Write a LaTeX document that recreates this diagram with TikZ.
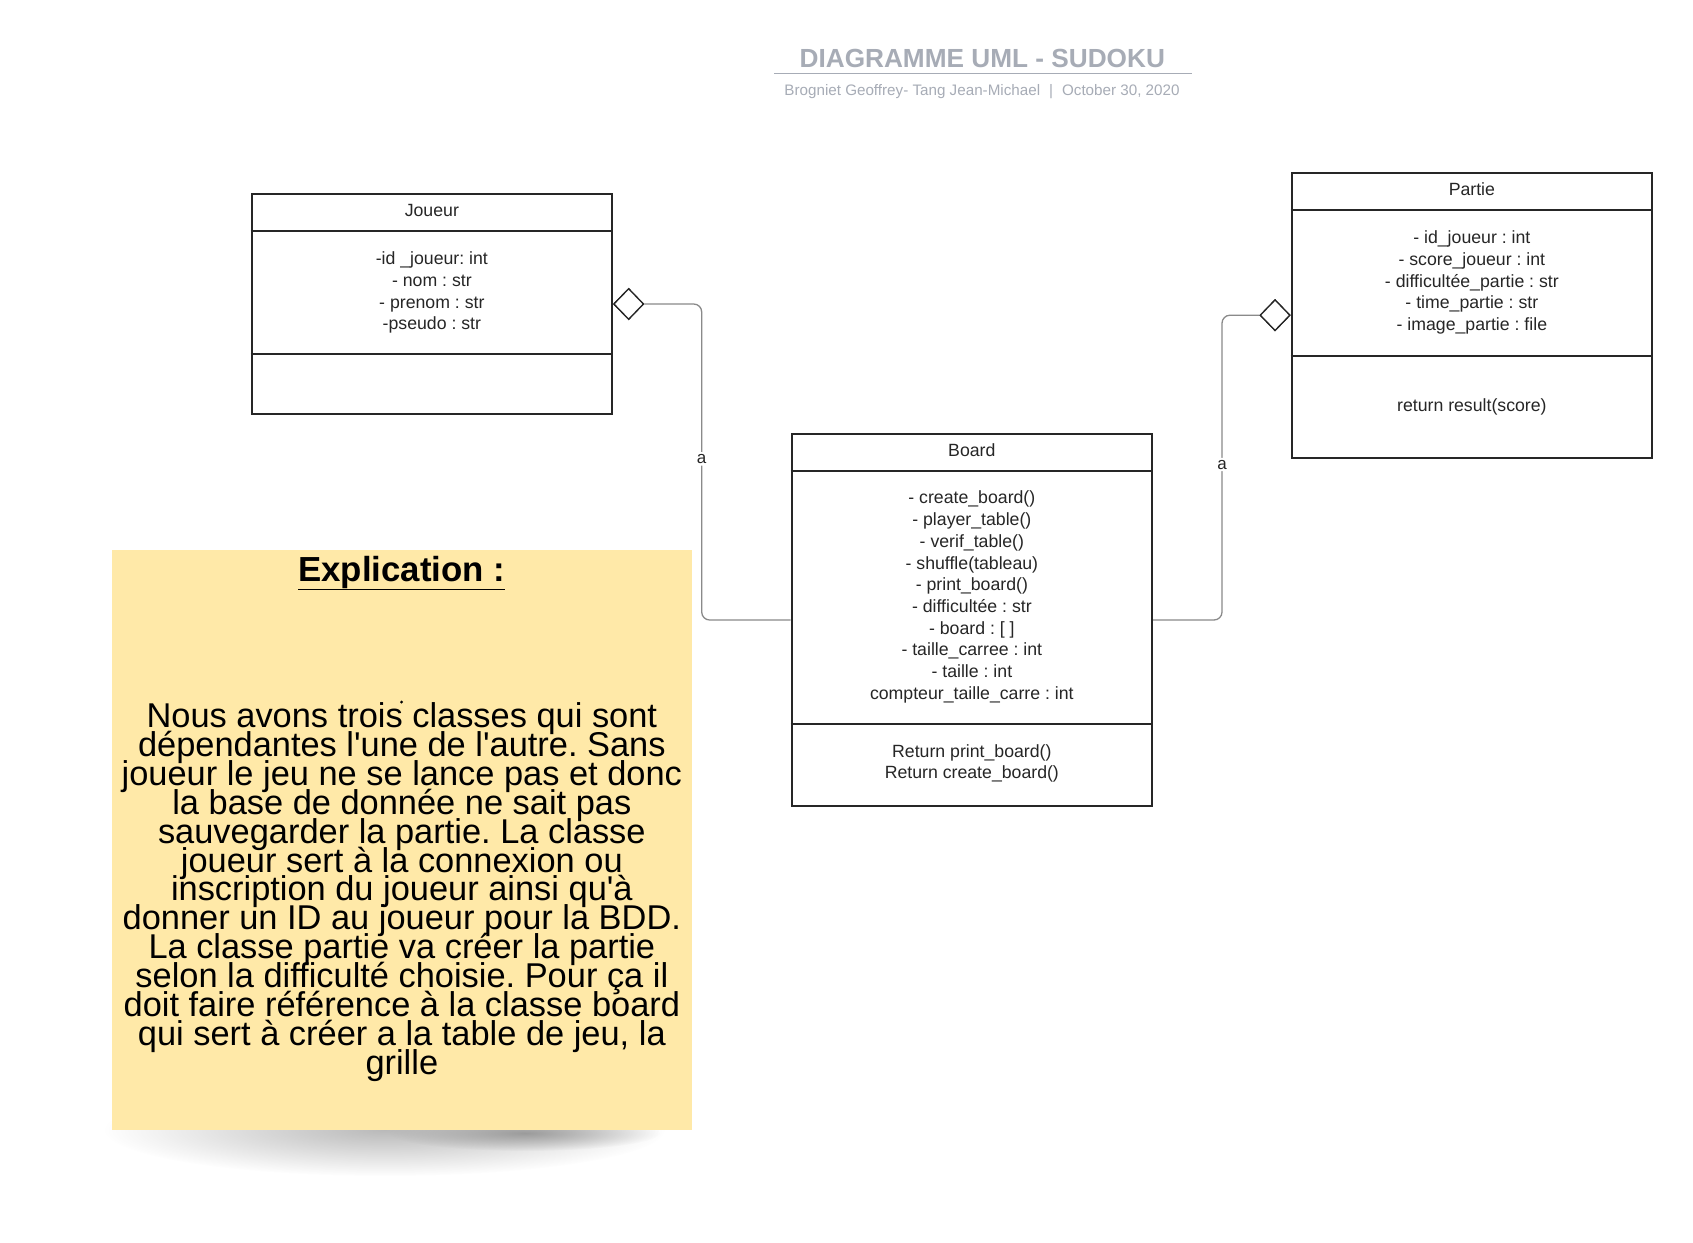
\documentclass[tikz,border=0pt]{standalone}
\usepackage{fontspec}
\setmainfont{Liberation Sans}
\usetikzlibrary{shapes.geometric,fadings}
\definecolor{ink}{HTML}{262626}
\definecolor{titlegray}{HTML}{A7ACB6}
\definecolor{conncol}{HTML}{8A8A8A}
\definecolor{notefill}{HTML}{FFE9A8}
\tikzfading[name=softfade, inner color=transparent!10, outer color=transparent!100]
\newcommand\mynotefont{\fontsize{34.4}{28.9}\selectfont\frenchspacing\setlength{\lineskiplimit}{-200pt}\setlength{\lineskip}{0pt}}
\begin{document}
\frenchspacing
\begin{tikzpicture}[x=1pt,y=-1pt,
  classbox/.style={draw=ink, line width=2pt, minimum width=360.3pt, inner sep=0pt},
  divider/.style={draw=ink, line width=2pt},
  txt/.style={text=ink, font=\fontsize{17.7}{21.7}\selectfont\frenchspacing, align=center, inner sep=0pt},
  conn/.style={draw=conncol, line width=1.3pt, rounded corners=8pt},
  dia/.style={diamond, draw=ink, line width=1.3pt, fill=white, minimum width=30pt, minimum height=31pt, inner sep=0pt},
  lab/.style={fill=white, text=ink, font=\fontsize{17}{18}\selectfont, inner sep=2pt},
  notebox/.style={fill=notefill, minimum width=580.3pt, minimum height=579.5pt, inner sep=0pt},
  notetxt/.style={text=black, align=center, inner sep=0pt, font=\mynotefont},
  titletxt/.style={text=titlegray, font=\bfseries\fontsize{26.2}{28}\selectfont, inner sep=0pt},
  subtxt/.style={text=titlegray, font=\fontsize{15.2}{18}\selectfont, inner sep=0pt},
]
\useasboundingbox[fill=white] (0,0) rectangle (1693,1242);

% ---------- title ----------
\node[titletxt, anchor=base] (title) at (982.3,67) {DIAGRAMME UML - SUDOKU};
\coordinate (tl) at (774,73.3);
\coordinate (tr) at (1191.7,73.3);
\draw[titlegray, line width=1.5pt] (tl) -- (tr);
\node[subtxt, anchor=base] (subtitle) at (982,95) {Brogniet Geoffrey- Tang Jean-Michael\hspace{9pt}|\hspace{9pt}October 30, 2020};

% ---------- Joueur ----------
\node[classbox, minimum height=220pt] (joueur) at (431.85,304) {};
\draw[divider] (joueur.west |- 0,231) -- (joueur.east |- 0,231);
\draw[divider] (joueur.west |- 0,354) -- (joueur.east |- 0,354);
\node[txt] (joueurname) at (431.85,210.5) {Joueur};
\node[txt] (joueurattr) at (431.85,292.8) {-id \_joueur: int\\- nom : str\\- prenom : str\\-pseudo : str};

% ---------- Partie ----------
\node[classbox, minimum height=285pt] (partie) at (1471.85,315.2) {};
\draw[divider] (partie.west |- 0,210) -- (partie.east |- 0,210);
\draw[divider] (partie.west |- 0,356) -- (partie.east |- 0,356);
\node[txt] (partiename) at (1471.85,189.3) {Partie};
\node[txt] (partieattr) at (1471.85,282.5) {- id\_joueur : int\\- score\_joueur : int\\- difficultée\_partie : str\\- time\_partie : str\\- image\_partie : file};
\node[txt] (partieops) at (1471.85,407) {return result(score)};

% ---------- Board ----------
\node[classbox, minimum height=372pt] (board) at (971.85,620) {};
\draw[divider] (board.west |- 0,471) -- (board.east |- 0,471);
\draw[divider] (board.west |- 0,724) -- (board.east |- 0,724);
\node[txt] (boardname) at (971.85,450.5) {Board};
\node[txt] (boardattr) at (971.85,597) {- create\_board()\\- player\_table()\\- verif\_table()\\- shuffle(tableau)\\- print\_board()\\- difficultée : str\\- board : [ ]\\- taille\_carree : int\\- taille : int\\compteur\_taille\_carre : int};
\node[txt] (boardops) at (971.85,763.5) {Return print\_board()\\Return create\_board()};

% ---------- connectors ----------
\node[dia, anchor=west] (jdia) at (joueur.east) {};
\node[dia, anchor=east] (pdia) at (partie.west) {};
\coordinate (lx) at (701.7,0);
\coordinate (rx) at (1222,0);
\draw[conn] (jdia.east) -| node[lab, pos=0.745] (la) {a} (lx |- board.west) -- (board.west);
\draw[conn] (pdia.west) -| node[lab, pos=0.745] (lb) {a} (rx |- board.east) -- (board.east);
\node[dia, anchor=west] at (joueur.east) {};
\node[dia, anchor=east] at (partie.west) {};

% ---------- note ----------
\fill[black!30, path fading=softfade] (385,1130) ellipse (280 and 46);
\fill[black!42, path fading=softfade] (525,1133) ellipse (135 and 18);
\node[notebox] (note) at (401.85,839.75) {};
\node[text=black, inner sep=0pt, font=\bfseries\fontsize{34.8}{36}\selectfont] (notetitle) at (401.85,573) {\underline{Explication :}};
\node[notetxt] (notebody) at (401.85,892) {Nous avons trois classes qui sont\\
dépendantes l\textquotesingle une de l\textquotesingle autre. Sans\\
joueur le jeu ne se lance pas et donc\\
la base de donnée ne sait pas\\
sauvegarder la partie. La classe\\
joueur sert à la connexion ou\\
inscription du joueur ainsi qu\textquotesingle à\\
donner un ID au joueur pour la BDD.\\
La classe partie va créer la partie\\
selon la difficulté choisie. Pour ça il\\
doit faire référence à la classe board\\
qui sert à créer a la table de jeu, la\\
grille};
\fill[black] (401.6,702) circle (1.6);
\end{tikzpicture}
\end{document}
